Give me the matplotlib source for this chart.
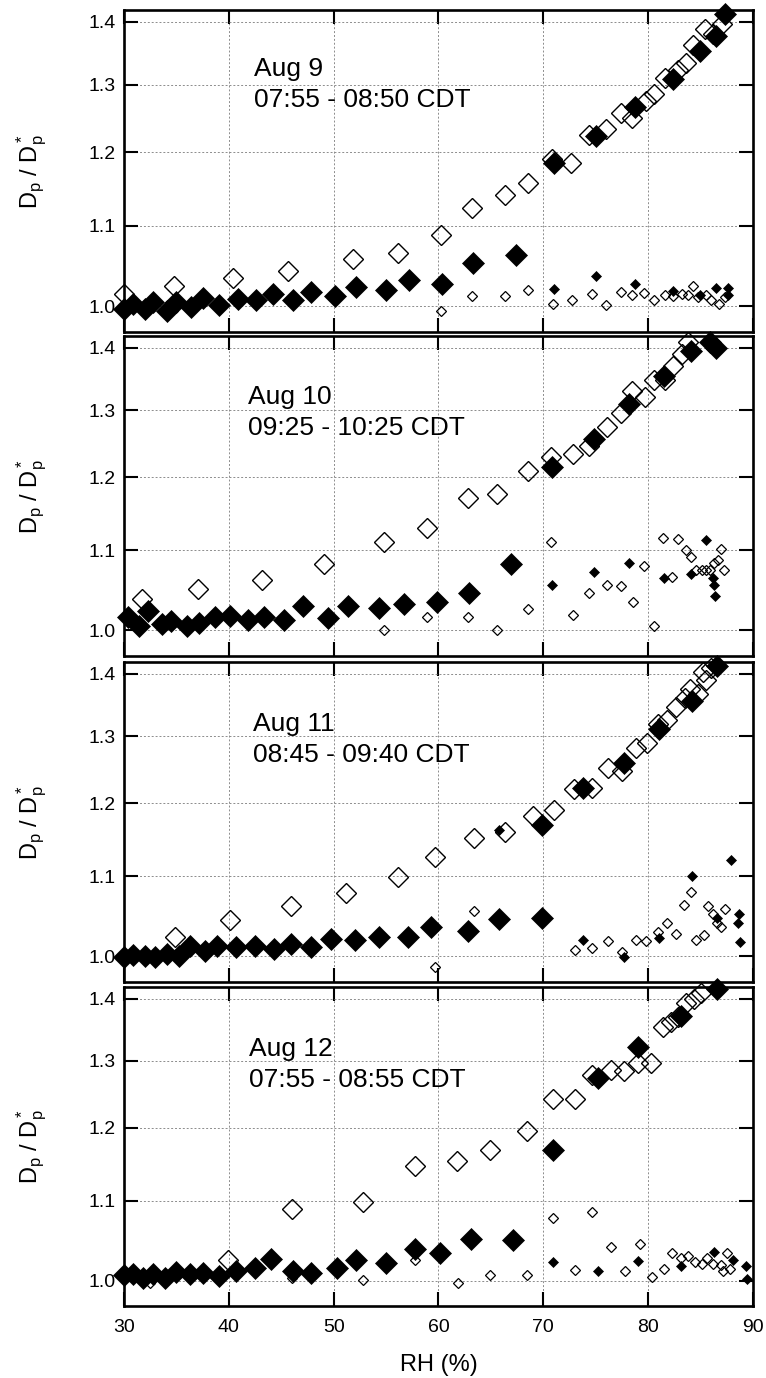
import numpy as np
import matplotlib.pyplot as plt
from matplotlib.ticker import FixedLocator, FixedFormatter, NullLocator

plt.rcParams['font.family'] = ['Liberation Sans', 'DejaVu Sans']
plt.rcParams['mathtext.fontset'] = 'custom'
plt.rcParams['mathtext.rm'] = 'Liberation Sans'
plt.rcParams['mathtext.it'] = 'Liberation Sans'

# ---- Aug 9 ----
rh9_fl = [30.0, 30.9, 32.0, 32.8, 34.1, 35.0, 36.4, 37.5, 39.1, 40.9, 42.6, 44.2, 46.1, 47.8,
          50.1, 52.1, 55.0, 57.2, 60.3, 63.3, 67.4, 71.05, 75.0, 78.7, 82.4, 84.9, 86.5, 87.3]
gf9_fl = [0.997, 1.003, 0.997, 1.005, 0.995, 1.005, 0.999, 1.010, 1.001, 1.009, 1.007, 1.015, 1.008, 1.017,
          1.012, 1.023, 1.019, 1.032, 1.027, 1.053, 1.0625, 1.185, 1.223, 1.266, 1.308, 1.352, 1.377, 1.413]
rh9_ol = [30.0, 34.8, 40.4, 45.6, 51.8, 56.1, 60.2, 63.2, 66.3, 68.5, 70.8, 72.6, 74.4, 76.0, 77.4,
          78.5, 79.8, 80.6, 81.6, 82.8, 83.6, 84.3, 85.4, 86.2, 87.0]
gf9_ol = [1.015, 1.024, 1.034, 1.043, 1.058, 1.0645, 1.088, 1.123, 1.141, 1.157, 1.19, 1.185, 1.225, 1.233, 1.257,
          1.25, 1.275, 1.285, 1.31, 1.323, 1.334, 1.363, 1.388, 1.38, 1.396]
rh9_fs = [71.05, 75.0, 78.7, 82.4, 84.9, 86.5, 87.6, 87.6]
gf9_fs = [1.021, 1.036, 1.027, 1.018, 1.014, 1.022, 1.022, 1.013]
rh9_os = [60.2, 63.2, 66.3, 68.5, 70.9, 72.7, 74.6, 76.0, 77.4, 78.5, 79.6, 80.6, 81.6, 82.4, 83.2,
          83.8, 84.3, 84.8, 85.5, 86.0, 86.8, 87.3]
gf9_os = [0.9945, 1.012, 1.012, 1.019, 1.003, 1.007, 1.015, 1.001, 1.017, 1.014, 1.016, 1.007, 1.013, 1.012, 1.015,
          1.013, 1.024, 1.011, 1.013, 1.007, 1.003, 1.011]

# ---- Aug 10 ----
rh10_fl = [30.4, 31.4, 32.3, 33.6, 34.5, 36.0, 37.2, 38.7, 40.1, 41.8, 43.4, 45.3, 47.1, 49.5,
           51.4, 54.3, 56.7, 59.9, 62.9, 66.9, 70.8, 74.8, 78.2, 81.5, 84.1, 85.9, 86.5]
gf10_fl = [1.016, 1.0055, 1.023, 1.008, 1.011, 1.0055, 1.009, 1.016, 1.017, 1.012, 1.016, 1.012, 1.029, 1.015,
           1.030, 1.027, 1.032, 1.035, 1.046, 1.082, 1.215, 1.256, 1.31, 1.354, 1.395, 1.41, 1.40]
rh10_ol = [31.7, 37.1, 43.2, 49.1, 54.8, 58.9, 62.8, 65.6, 68.5, 70.7, 72.8, 74.4, 76.1, 77.4,
           78.5, 79.7, 80.6, 81.6, 82.4, 83.2, 83.8]
gf10_ol = [1.038, 1.051, 1.062, 1.082, 1.111, 1.130, 1.171, 1.176, 1.209, 1.230, 1.234, 1.246, 1.274, 1.295,
           1.330, 1.321, 1.348, 1.348, 1.370, 1.39, 1.41]
rh10_fs = [70.8, 74.8, 78.2, 81.5, 84.1, 85.5, 86.2, 86.3, 86.4]
gf10_fs = [1.056, 1.072, 1.083, 1.065, 1.069, 1.114, 1.064, 1.056, 1.042]
rh10_os = [54.8, 58.9, 62.8, 65.6, 68.5, 70.7, 72.8, 74.4, 76.1, 77.4, 78.6, 79.6, 80.6, 81.4, 82.3,
           82.8, 83.6, 84.1, 84.6, 85.1, 85.5, 85.9, 86.3, 86.7, 86.9, 87.2]
gf10_os = [1.000, 1.016, 1.016, 1.000, 1.026, 1.111, 1.019, 1.046, 1.055, 1.054, 1.035, 1.08, 1.0055, 1.117, 1.066,
           1.115, 1.101, 1.092, 1.074, 1.074, 1.074, 1.074, 1.083, 1.087, 1.102, 1.074]

# ---- Aug 11 ----
rh11_fl = [30.0, 30.9, 32.0, 33.0, 34.1, 35.2, 36.3, 37.7, 38.9, 40.7, 42.5, 44.3, 45.9, 47.8,
           49.7, 52.0, 54.3, 57.1, 59.3, 62.8, 65.8, 69.9, 69.9, 73.8, 77.7, 81.0, 84.2, 86.6]
gf11_fl = [0.999, 1.002, 1.001, 0.999, 1.003, 1.000, 1.012, 1.006, 1.013, 1.011, 1.012, 1.009, 1.015, 1.011,
           1.021, 1.020, 1.024, 1.023, 1.036, 1.031, 1.046, 1.047, 1.169, 1.222, 1.259, 1.311, 1.355, 1.414]
rh11_ol = [34.9, 40.1, 45.9, 51.2, 56.1, 59.7, 63.4, 66.3, 69.0, 71.0, 72.9, 74.6, 76.2, 77.5,
           78.8, 79.9, 80.9, 81.8, 82.7, 83.5, 84.0, 84.8, 85.2, 85.5, 86.0]
gf11_ol = [1.024, 1.0445, 1.0625, 1.078, 1.0997, 1.126, 1.151, 1.16, 1.182, 1.191, 1.22, 1.222, 1.251, 1.247,
           1.282, 1.29, 1.319, 1.325, 1.346, 1.36, 1.375, 1.367, 1.403, 1.39, 1.41]
rh11_fs = [65.8, 73.8, 77.7, 81.0, 84.2, 86.6, 87.9, 88.7, 88.6, 88.8]
gf11_fs = [1.163, 1.020, 0.999, 1.022, 1.1005, 1.047, 1.122, 1.052, 1.041, 1.017]
rh11_os = [59.7, 63.4, 73.0, 74.6, 76.2, 77.5, 78.8, 79.8, 80.9, 81.8, 82.7, 83.4, 84.1, 84.6,
           85.3, 85.7, 86.2, 86.6, 86.9, 87.3]
gf11_os = [0.987, 1.055, 1.008, 1.010, 1.019, 1.005, 1.020, 1.019, 1.030, 1.041, 1.027, 1.063, 1.080, 1.020,
           1.026, 1.062, 1.052, 1.040, 1.036, 1.058]

# ---- Aug 12 ----
rh12_fl = [30.0, 30.9, 31.8, 32.8, 33.9, 35.0, 36.3, 37.5, 39.1, 40.7, 42.5, 44.0, 46.1, 47.8,
           50.3, 52.1, 55.0, 57.8, 60.1, 63.1, 67.1, 70.9, 75.2, 79.0, 83.1, 86.6]
gf12_fl = [1.006, 1.008, 1.003, 1.008, 1.003, 1.010, 1.008, 1.009, 1.005, 1.012, 1.015, 1.026, 1.011, 1.009,
           1.015, 1.025, 1.021, 1.038, 1.0336, 1.0514, 1.050, 1.169, 1.273, 1.322, 1.371, 1.416]
rh12_ol = [39.9, 46.0, 52.8, 57.8, 61.8, 64.9, 68.4, 70.9, 73.0, 74.6, 76.5, 77.7, 79.0, 80.3,
           81.4, 82.2, 82.8, 83.6, 84.4, 85.0]
gf12_ol = [1.025, 1.089, 1.098, 1.147, 1.153, 1.169, 1.196, 1.242, 1.242, 1.279, 1.286, 1.285, 1.296, 1.297,
           1.354, 1.362, 1.37, 1.393, 1.40, 1.41]
rh12_fs = [70.9, 75.2, 79.0, 83.1, 86.3, 88.1, 89.3, 89.4]
gf12_fs = [1.0225, 1.012, 1.023, 1.018, 1.035, 1.025, 1.018, 1.002]
rh12_os = [32.5, 46.0, 52.8, 57.8, 61.9, 64.9, 68.4, 70.9, 73.0, 74.6, 76.5, 77.8, 79.2, 80.4, 81.5,
           82.3, 83.1, 83.8, 84.5, 85.1, 85.6, 86.2, 86.9, 87.5, 87.1, 87.8]
gf12_os = [0.997, 1.003, 1.001, 1.025, 0.997, 1.007, 1.007, 1.078, 1.013, 1.085, 1.041, 1.011, 1.045, 1.004, 1.014,
           1.034, 1.027, 1.030, 1.022, 1.020, 1.027, 1.020, 1.019, 1.034, 1.011, 1.014]

labels = ['Aug 9\n07:55 - 08:50 CDT', 'Aug 10\n09:25 - 10:25 CDT',
          'Aug 11\n08:45 - 09:40 CDT', 'Aug 12\n07:55 - 08:55 CDT']
yticks = [1.0, 1.1, 1.2, 1.3, 1.4]
ytick_labels = ['1.0', '1.1', '1.2', '1.3', '1.4']
xticks = [30, 40, 50, 60, 70, 80, 90]

panels = [
    (rh9_fl, gf9_fl, rh9_ol, gf9_ol, rh9_fs, gf9_fs, rh9_os, gf9_os),
    (rh10_fl, gf10_fl, rh10_ol, gf10_ol, rh10_fs, gf10_fs, rh10_os, gf10_os),
    (rh11_fl, gf11_fl, rh11_ol, gf11_ol, rh11_fs, gf11_fs, rh11_os, gf11_os),
    (rh12_fl, gf12_fl, rh12_ol, gf12_ol, rh12_fs, gf12_fs, rh12_os, gf12_os),
]

W, H = 766, 1378
fig = plt.figure(figsize=(W / 100, H / 100), dpi=100)

# panel edges in pixels (top, bottom)
edges = [(10, 332), (336, 656), (662, 982), (987, 1306)]
left_px, right_px = 124, 753
text_pos = [(0.207, 0.698), (0.197, 0.691), (0.205, 0.688), (0.199, 0.686)]

for i, (top, bot) in enumerate(edges):
    ax = fig.add_axes([left_px / W, 1 - bot / H, (right_px - left_px) / W, (bot - top) / H])
    rfl, gfl, rol, gol, rfs, gfs, ros, gos = panels[i]

    ax.plot(rol, gol, ls='none', marker='D', ms=9.8, mfc='none', mec='black', mew=1.0, clip_on=False, zorder=3)
    ax.plot(ros, gos, ls='none', marker='D', ms=5.0, mfc='none', mec='black', mew=0.9, clip_on=False, zorder=3)
    ax.plot(rfl, gfl, ls='none', marker='D', ms=11, mfc='black', mec='black', mew=0.5, clip_on=False, zorder=4)
    ax.plot(rfs, gfs, ls='none', marker='D', ms=5.5, mfc='black', mec='black', mew=0.5, clip_on=False, zorder=4)

    ax.set_yscale('log')
    ax.set_xlim(30, 90)
    ax.set_ylim(0.970, 1.42)
    ax.yaxis.set_major_locator(FixedLocator(yticks))
    ax.yaxis.set_major_formatter(FixedFormatter(ytick_labels))
    ax.yaxis.set_minor_locator(NullLocator())
    ax.set_xticks(xticks)
    ax.xaxis.set_minor_locator(NullLocator())

    ax.grid(True, which='major', color='#8c8c8c', ls=(0, (2, 2)), lw=0.7)
    ax.set_axisbelow(True)
    for sp in ax.spines.values():
        sp.set_linewidth(1.9)
    ax.tick_params(which='major', direction='in', length=10, width=1.5,
                   top=True, right=True, labelsize=14, pad=6)
    ax.tick_params(axis='x', pad=9)
    if i < 3:
        ax.tick_params(axis='x', labelbottom=False)
    else:
        ax.set_xlabel('RH (%)', fontsize=17, labelpad=13)

    ax.text(text_pos[i][0], text_pos[i][1], labels[i], transform=ax.transAxes,
            fontsize=19, ha='left', va='baseline', linespacing=1.37)
    ax.text(-0.146, 0.5, 'D$_\\mathregular{p}$ / D$_\\mathregular{p}^*$', transform=ax.transAxes,
            rotation=90, ha='center', va='center', fontsize=17)

fig.savefig('out.png', dpi=100)
